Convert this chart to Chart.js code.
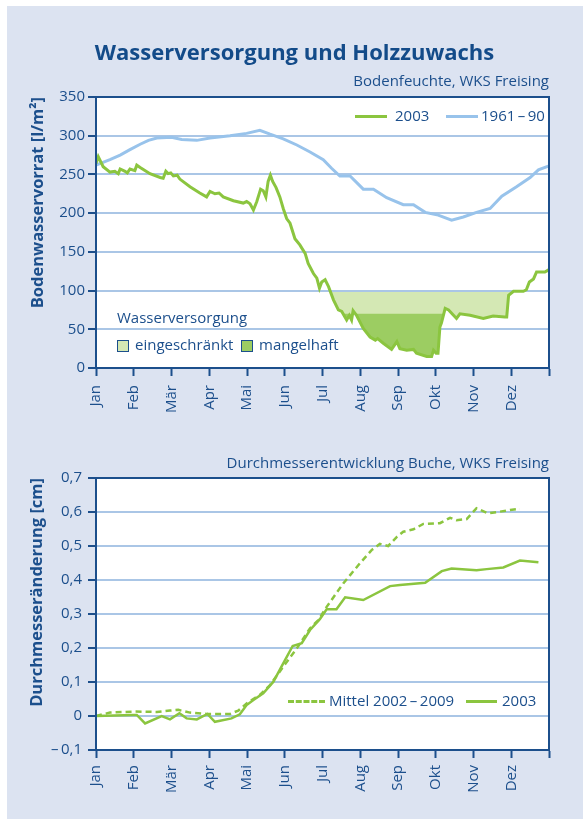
<!DOCTYPE html>
<html lang="de">
<head>
<meta charset="utf-8">
<title>Wasserversorgung und Holzzuwachs</title>
<script src="https://cdn.jsdelivr.net/npm/chart.js@4.4.1/dist/chart.umd.min.js"></script>
<style>
  html, body { margin: 0; padding: 0; background: #fff; }
  body { width: 583px; height: 819px; position: relative; overflow: hidden; font-family: "Open Sans", sans-serif; color: #1c4f8c; }
  #panel { position: absolute; left: 7px; top: 6px; right: 0; bottom: 0; background: #dce3f1; }
  canvas { position: absolute; left: 0; }
  #soil-chart { top: 0; }
  #diameter-chart { top: 430px; }
  .txt { position: absolute; white-space: nowrap; line-height: 20px; height: 20px; }
  .title { left: 0; width: 589px; text-align: center; top: 39px; font-size: 22px; font-weight: 700; color: #134b89; line-height: 24px; }
  .sub { right: 34px; font-size: 15px; }
  .key { display: inline-block; vertical-align: middle; }
  .swatch { display: inline-block; width: 10px; height: 10px; border: 1px solid #1c4f8c; vertical-align: middle; margin-right: 6px; }
</style>
</head>
<body>
<div id="panel"></div>
<canvas id="soil-chart" width="583" height="430"></canvas>
<canvas id="diameter-chart" width="583" height="389"></canvas>

<div class="txt title">Wasserversorgung und Holzzuwachs</div>
<div class="txt sub" style="top:70px">Bodenfeuchte, WKS Freising</div>
<div class="txt sub" style="top:452px">Durchmesserentwicklung Buche, WKS Freising</div>

<!-- legend top chart -->
<div class="txt" style="left:355px; top:105px; font-size:15px">
  <span class="key" style="width:32px; border-top:3px solid #8bc53f; margin-right:8px"></span>2003
</div>
<div class="txt" style="left:446px; top:105px; font-size:15px">
  <span class="key" style="width:32px; border-top:3px solid #98c3eb; margin-right:3px"></span>1961&thinsp;–&thinsp;90
</div>
<div class="txt" style="left:117px; top:307px; font-size:15px">Wasserversorgung</div>
<div class="txt" style="left:117px; top:334px; font-size:15px">
  <span class="swatch" style="background:#d4e8b4"></span>eingeschränkt
</div>
<div class="txt" style="left:241px; top:334px; font-size:15px">
  <span class="swatch" style="background:#9ccd62"></span>mangelhaft
</div>

<!-- legend bottom chart -->
<div class="txt" style="left:288px; top:690px; font-size:15px">
  <span class="key" style="width:37px; border-top:3px dashed #8bc53f; margin-right:4px"></span>Mittel 2002&thinsp;–&thinsp;2009
</div>
<div class="txt" style="left:466px; top:690px; font-size:15px">
  <span class="key" style="width:31px; border-top:3px solid #8bc53f; margin-right:5px"></span>2003
</div>

<script>
const monthLabels = ["Jan", "Feb", "Mär", "Apr", "Mai", "Jun", "Jul", "Aug", "Sep", "Okt", "Nov", "Dez"];

// Bodenwasservorrat [l/m²], x = Monat (0 = 1. Jan)
const soil2003 = [
  [0, 264], [0.06, 273], [0.19, 260], [0.37, 253], [0.5, 254], [0.59, 251], [0.64, 257], [0.77, 254],
  [0.83, 252], [0.9, 257], [1.03, 255], [1.08, 262], [1.17, 259], [1.43, 251], [1.70, 246], [1.78, 245],
  [1.85, 254], [1.91, 251], [1.98, 252], [2.05, 248], [2.15, 249], [2.22, 244], [2.49, 234], [2.75, 226],
  [2.93, 221], [3.02, 228], [3.15, 225], [3.26, 226], [3.37, 221], [3.64, 216], [3.90, 213], [3.99, 215],
  [4.08, 212], [4.17, 204], [4.26, 215], [4.36, 231], [4.43, 229], [4.50, 221], [4.56, 241], [4.62, 249],
  [4.68, 241], [4.77, 233], [4.87, 221], [4.96, 206], [5.05, 193], [5.14, 187], [5.27, 167], [5.40, 159],
  [5.54, 148], [5.62, 135], [5.76, 122], [5.85, 116], [5.92, 103], [5.98, 111], [6.07, 114], [6.16, 105],
  [6.29, 88], [6.42, 75], [6.51, 73], [6.64, 62], [6.71, 68], [6.77, 62], [6.81, 74], [6.90, 68],
  [7.08, 51], [7.26, 40], [7.40, 36], [7.46, 38], [7.61, 32], [7.83, 24], [7.97, 34], [8.05, 25],
  [8.23, 23], [8.41, 24], [8.49, 19], [8.76, 15], [8.89, 15], [8.94, 23], [9.01, 19], [9.06, 19],
  [9.11, 53], [9.15, 58], [9.25, 77], [9.34, 75], [9.55, 64], [9.64, 70], [9.91, 68], [10.26, 64],
  [10.52, 67], [10.83, 66], [10.88, 66], [10.93, 94], [11.06, 99], [11.32, 99], [11.40, 101], [11.48, 111],
  [11.59, 115], [11.67, 124], [11.89, 124], [12, 127]
];
const soilMean = [
  [0, 262], [0.37, 269], [0.64, 275], [0.90, 282], [1.17, 289], [1.39, 294], [1.61, 297], [2.0, 298],
  [2.27, 295], [2.67, 294], [3.02, 297], [3.55, 300], [3.99, 303], [4.34, 307], [4.61, 302], [4.96, 296],
  [5.32, 288], [5.67, 279], [6.02, 269], [6.24, 258], [6.46, 248], [6.73, 248], [7.08, 231], [7.35, 231],
  [7.70, 220], [8.14, 211], [8.41, 211], [8.72, 201], [9.03, 198], [9.42, 191], [9.73, 195], [10.08, 201],
  [10.44, 206], [10.75, 222], [11.14, 234], [11.50, 246], [11.72, 256], [12, 261]
];
// Grenzen der Wasserversorgung
const restrictedLevel = 98;
const restrictedSpan = [6.0, 11.1];
const deficientLevel = 70;
const deficientSpan = [6.4, 9.3];

// Durchmesseränderung [cm]
const diameterMean = [
  [0, 0], [0.37, 0.010], [0.99, 0.013], [1.61, 0.012], [1.96, 0.016], [2.18, 0.018], [2.49, 0.010],
  [2.93, 0.006], [3.55, 0.006], [3.77, 0.016], [3.99, 0.037], [4.34, 0.062], [4.61, 0.091], [4.96, 0.145],
  [5.32, 0.199], [5.67, 0.258], [5.89, 0.282], [6.11, 0.321], [6.55, 0.390], [6.99, 0.449], [7.30, 0.488],
  [7.52, 0.506], [7.74, 0.500], [7.97, 0.527], [8.14, 0.542], [8.41, 0.549], [8.67, 0.565], [9.11, 0.567],
  [9.38, 0.583], [9.55, 0.576], [9.82, 0.579], [10.08, 0.611], [10.39, 0.596], [10.70, 0.601], [10.97, 0.606],
  [11.23, 0.609]
];
const diameter2003 = [
  [0, 0], [0.99, 0.003], [1.08, 0.003], [1.30, -0.022], [1.74, 0], [1.96, -0.010], [2.21, 0.008],
  [2.40, -0.007], [2.67, -0.010], [2.95, 0.006], [3.15, -0.017], [3.59, -0.007], [3.81, 0.005], [3.99, 0.032],
  [4.17, 0.047], [4.43, 0.067], [4.70, 0.101], [4.96, 0.155], [5.21, 0.206], [5.45, 0.214], [5.67, 0.253],
  [5.93, 0.285], [6.11, 0.314], [6.37, 0.314], [6.60, 0.349], [7.08, 0.341], [7.79, 0.382], [8.05, 0.385],
  [8.72, 0.392], [9.16, 0.426], [9.42, 0.434], [10.08, 0.429], [10.35, 0.432], [10.79, 0.437], [11.23, 0.457],
  [11.72, 0.452]
];

const DARK = "#1c4f8c";
const GRID = "#aac6e6";
const GREEN = "#8bc53f";
const FONT = "'Open Sans', sans-serif";

const toXY = arr => arr.map(p => ({ x: p[0], y: p[1] }));
// level line over the 2003 points in a span, filled down to the 2003 curve
const levelLine = (level, span) =>
  soil2003.filter(p => p[0] >= span[0] && p[0] <= span[1]).map(p => ({ x: p[0], y: level }));

// white plot area + dark frame
const framePlugin = {
  id: "frame",
  beforeDraw(chart) {
    const { ctx, chartArea: a } = chart;
    ctx.save();
    ctx.fillStyle = "#fff";
    ctx.fillRect(a.left, a.top, a.right - a.left, a.bottom - a.top);
    ctx.restore();
  },
  afterDraw(chart) {
    const { ctx, chartArea: a } = chart;
    ctx.save();
    ctx.strokeStyle = DARK;
    ctx.lineWidth = 2;
    ctx.strokeRect(a.left, a.top, a.right - a.left, a.bottom - a.top);
    ctx.restore();
  }
};

function monthAxis(height, pad) {
  return {
    type: "linear",
    min: 0,
    max: 12,
    afterFit: s => { s.height = height; },
    grid: { drawOnChartArea: false, drawTicks: true, tickLength: 8, tickColor: DARK, tickWidth: 2 },
    border: { color: DARK, width: 2 },
    ticks: {
      stepSize: 1,
      autoSkip: false,
      minRotation: 90,
      maxRotation: 90,
      padding: pad,
      color: DARK,
      font: { family: FONT, size: 15 },
      callback: v => monthLabels[v] || ""
    }
  };
}

function valueAxis(opts) {
  return {
    min: opts.min,
    max: opts.max,
    afterFit: s => { s.width = opts.width; },
    grid: { color: GRID, lineWidth: 2, drawTicks: true, tickLength: 8, tickColor: DARK, tickWidth: 2 },
    border: { color: DARK, width: 2 },
    ticks: {
      stepSize: opts.step,
      padding: opts.pad,
      color: DARK,
      font: { family: FONT, size: 15 },
      callback: opts.format
    },
    title: {
      display: true,
      text: opts.title,
      align: "end",
      color: DARK,
      padding: { top: opts.titleTop, bottom: 0 },
      font: { family: FONT, size: 16.5, weight: "bold" }
    }
  };
}

new Chart(document.getElementById("soil-chart"), {
  type: "line",
  data: {
    datasets: [
      { label: "2003", data: toXY(soil2003), borderColor: GREEN, borderWidth: 3, pointRadius: 0, fill: false },
      { label: "1961–90", data: toXY(soilMean), borderColor: "#98c3eb", borderWidth: 3, pointRadius: 0, fill: false },
      { label: "mangelhaft", data: levelLine(deficientLevel, deficientSpan), borderWidth: 0, pointRadius: 0,
        fill: { target: 0, above: "#9ccd62", below: "rgba(0,0,0,0)" } },
      { label: "eingeschränkt", data: levelLine(restrictedLevel, restrictedSpan), borderWidth: 0, pointRadius: 0,
        fill: { target: 0, above: "#d4e8b4", below: "rgba(0,0,0,0)" } }
    ]
  },
  options: {
    responsive: false,
    animation: false,
    layout: { padding: { left: 8, top: 97, right: 34, bottom: 0 } },
    plugins: { legend: { display: false }, tooltip: { enabled: false } },
    scales: {
      x: monthAxis(62, 9),
      y: valueAxis({ min: 0, max: 350, step: 50, width: 88, pad: 3, titleTop: 20,
        title: "Bodenwasservorrat [l/m²]", format: v => String(v) })
    }
  },
  plugins: [framePlugin]
});

new Chart(document.getElementById("diameter-chart"), {
  type: "line",
  data: {
    datasets: [
      { label: "2003", data: toXY(diameter2003), borderColor: GREEN, borderWidth: 2.5, pointRadius: 0, fill: false },
      { label: "Mittel 2002–2009", data: toXY(diameterMean), borderColor: GREEN, borderWidth: 2.5,
        borderDash: [6, 4], pointRadius: 0, fill: false }
    ]
  },
  options: {
    responsive: false,
    animation: false,
    layout: { padding: { left: 8, top: 48, right: 34, bottom: 0 } },
    plugins: { legend: { display: false }, tooltip: { enabled: false } },
    scales: {
      x: monthAxis(69, 7),
      y: valueAxis({ min: -0.1, max: 0.7, step: 0.1, width: 88, pad: 6, titleTop: 19,
        title: "Durchmesseränderung [cm]",
        format: v => {
          const r = Math.round(v * 10) / 10;
          if (r === 0) return "0";
          return (r < 0 ? "–\u2009" : "") + Math.abs(r).toFixed(1).replace(".", ",");
        } })
    }
  },
  plugins: [framePlugin]
});
</script>
</body>
</html>
